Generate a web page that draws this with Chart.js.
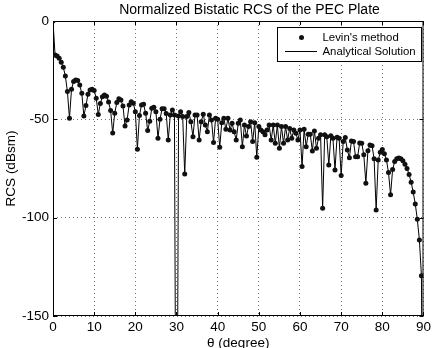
<!DOCTYPE html>
<html>
<head>
<meta charset="utf-8">
<script src="https://cdn.jsdelivr.net/npm/chart.js@4.4.0/dist/chart.umd.min.js"></script>
<style>
  html, body { margin: 0; padding: 0; background: #fff; }
</style>
</head>
<body>
<canvas id="rcs" width="434" height="348"></canvas>
<script>
// bistatic angle samples (degree)
const theta = [
  0, 0.5, 1, 1.5, 2, 2.5, 3, 3.5, 4, 4.5,
  5, 5.5, 6, 6.5, 7, 7.5, 8, 8.5, 9, 9.5,
  10, 10.5, 11, 11.5, 12, 12.5, 13, 13.5, 14, 14.5,
  15, 15.5, 16, 16.5, 17, 17.5, 18, 18.5, 19, 19.5,
  20, 20.5, 21, 21.5, 22, 22.5, 23, 23.5, 24, 24.5,
  25, 25.5, 26, 26.5, 27, 27.5, 28, 28.5, 29, 29.5,
  30, 30.5, 31, 31.5, 32, 32.5, 33, 33.5, 34, 34.5,
  35, 35.5, 36, 36.5, 37, 37.5, 38, 38.5, 39, 39.5,
  40, 40.5, 41, 41.5, 42, 42.5, 43, 43.5, 44, 44.5,
  45, 45.5, 46, 46.5, 47, 47.5, 48, 48.5, 49, 49.5,
  50, 50.5, 51, 51.5, 52, 52.5, 53, 53.5, 54, 54.5,
  55, 55.5, 56, 56.5, 57, 57.5, 58, 58.5, 59, 59.5,
  60, 60.5, 61, 61.5, 62, 62.5, 63, 63.5, 64, 64.5,
  65, 65.5, 66, 66.5, 67, 67.5, 68, 68.5, 69, 69.5,
  70, 70.5, 71, 71.5, 72, 72.5, 73, 73.5, 74, 74.5,
  75, 75.5, 76, 76.5, 77, 77.5, 78, 78.5, 79, 79.5,
  80, 80.5, 81, 81.5, 82, 82.5, 83, 83.5, 84, 84.5,
  85, 85.5, 86, 86.5, 87, 87.5, 88, 88.5, 89, 89.5,
  90
];

// Levin's method, normalized RCS (dBsm); null = -inf (exact null, off chart)
const rcsLevin = [
  0, -17.3, -17.8, -19, -21, -23.5, -28, -35.9, -49.5, -34.7,
  -30.8, -30, -30.3, -32.6, -36.8, -48.3, -43, -37.3, -35.1, -34.7,
  -35.4, -39.3, -47.5, -42, -38.5, -37.6, -38.3, -41.2, -45.5, -57,
  -46.9, -41.5, -39.5, -40.2, -43.2, -53.4, -50.3, -42.7, -41, -41.8,
  -46.1, -65.2, -48, -42.7, -42.3, -46.9, -55.7, -51, -44.4, -43.9,
  -46.1, -59.6, -50, -44.6, -44.6, -47, -60.5, -47.8, -45.2, -47.8,
  null, -48.3, -46.1, -48.6, -77.8, -48.6, -46.5, -51.2, -58.8, -47.8,
  -47.8, -60.5, -51.2, -47.4, -52.9, -56.3, -47.8, -50.3, -61.8, -49.5,
  -50, -64.2, -51.7, -49.5, -55.1, -49.5, -55.4, -52, -56.3, -60.5,
  -52, -50.3, -63.9, -52.9, -58.5, -53.7, -51.2, -61.3, -51.7, -69.3,
  -53.7, -55.4, -56.3, -57.9, -55.4, -52.9, -60.5, -52.9, -62.2, -52.9,
  -64.7, -53.7, -62.2, -53.7, -60.5, -54.6, -59.6, -55.4, -57.1, -60.5,
  -55.4, -74, -55, -63.9, -57.6, -57.6, -66.1, -55.9, -64.7, -59.6,
  -57.9, -95.2, -57.9, -58.8, -73.2, -58.3, -59.6, -75.7, -59.1, -59.6,
  -78.6, -61.3, -59.3, -65.6, -69.5, -61, -61.3, -69, -69, -62,
  -62.2, -68, -82.5, -66, -63, -63.4, -70, -96.1, -70.7, -66.8,
  -65.3, -67.5, -70.7, -77, -88.4, -75.5, -71.5, -70, -69.6, -70,
  -71, -72.8, -75, -78, -82, -87, -93, -100.8, -111.3, -129.5,
  null
];

// the analytical curve runs through the same samples; its exact nulls go to -inf
const NULL_DB = -300;

const xTicks = [0, 10, 20, 30, 40, 50, 60, 70, 80, 90];
const yTicks = [0, -50, -100, -150];

const FONT = '"Liberation Sans", Arial, sans-serif';
Chart.defaults.font.family = FONT;
Chart.defaults.color = '#000';

// matlab style box, inward ticks, title and legend inside the axes
const matlabFrame = {
  id: 'matlabFrame',
  beforeDatasetsDraw(chart) {
    const {ctx, chartArea: a, scales: {x, y}} = chart;
    ctx.save();
    ctx.strokeStyle = '#000';
    ctx.lineWidth = 1;
    ctx.strokeRect(a.left + 0.5, a.top + 0.5, a.right - a.left - 1, a.bottom - a.top - 1);
    ctx.beginPath();
    x.ticks.forEach(t => {
      const px = Math.round(x.getPixelForValue(t.value)) + 0.5;
      ctx.moveTo(px, a.bottom); ctx.lineTo(px, a.bottom - 4);
      ctx.moveTo(px, a.top); ctx.lineTo(px, a.top + 4);
    });
    y.ticks.forEach(t => {
      const py = Math.round(y.getPixelForValue(t.value)) + 0.5;
      ctx.moveTo(a.left, py); ctx.lineTo(a.left + 4, py);
      ctx.moveTo(a.right, py); ctx.lineTo(a.right - 4, py);
    });
    ctx.stroke();
    ctx.restore();
  },
  afterDraw(chart) {
    const ctx = chart.ctx;
    const ds = chart.data.datasets;
    ctx.save();
    ctx.fillStyle = '#000';
    ctx.font = '14px ' + FONT;
    ctx.textAlign = 'center';
    ctx.textBaseline = 'alphabetic';
    ctx.fillText('Normalized Bistatic RCS of the PEC Plate', 249.5, 13.5);

    // legend box
    ctx.fillStyle = '#fff';
    ctx.fillRect(277.5, 27.5, 144, 34);
    ctx.strokeStyle = '#000';
    ctx.lineWidth = 1;
    ctx.strokeRect(277.5, 27.5, 144, 34);
    ctx.fillStyle = '#111';
    ctx.beginPath();
    ctx.arc(301.5, 37.5, 2.5, 0, Math.PI * 2);
    ctx.fill();
    ctx.beginPath();
    ctx.moveTo(285, 51.5); ctx.lineTo(317, 51.5);
    ctx.stroke();
    ctx.fillStyle = '#000';
    ctx.font = '11.4px ' + FONT;
    ctx.textAlign = 'left';
    ctx.fillText(ds[0].label, 322.5, 41.4);
    ctx.fillText(ds[1].label, 322.5, 55.4);
    ctx.restore();
  }
};

new Chart(document.getElementById('rcs'), {
  type: 'line',
  data: {
    datasets: [{
      label: "Levin's method",
      data: theta.map((t, i) => ({x: t, y: rcsLevin[i]})),
      showLine: false,
      pointRadius: 2.5,
      pointBorderWidth: 0,
      pointBackgroundColor: '#111',
      borderColor: '#111'
    }, {
      label: 'Analytical Solution',
      data: theta.map((t, i) => ({x: t, y: rcsLevin[i] === null ? NULL_DB : rcsLevin[i]})),
      borderColor: '#000',
      borderWidth: 1,
      pointRadius: 0,
      tension: 0
    }]
  },
  plugins: [matlabFrame],
  options: {
    responsive: false,
    animation: false,
    events: [],
    layout: { padding: { top: 21, right: 9, bottom: 0, left: 0 } },
    plugins: {
      legend: { display: false },
      tooltip: { enabled: false }
    },
    scales: {
      x: {
        type: 'linear',
        min: 0,
        max: 90,
        afterBuildTicks: s => { s.ticks = xTicks.map(v => ({value: v})); },
        afterFit: s => { s.height = 32; },
        grid: { color: 'rgba(0,0,0,0.55)', drawTicks: false },
        border: { display: false, dash: [1, 3] },
        ticks: { padding: 3, maxRotation: 0, font: { size: 13.5 } },
        title: { display: true, text: 'θ (degree)', font: { size: 13.5 }, padding: { top: 0, bottom: -3 } }
      },
      y: {
        min: -150,
        max: 0,
        afterBuildTicks: s => { s.ticks = yTicks.map(v => ({value: v})); },
        afterFit: s => { s.width = 53; },
        grid: { color: 'rgba(0,0,0,0.55)', drawTicks: false },
        border: { display: false, dash: [1, 3] },
        ticks: { padding: 4, font: { size: 13.5 } },
        title: { display: true, text: 'RCS (dBsm)', font: { size: 13.5 }, padding: { top: 3, bottom: 0 } }
      }
    }
  }
});
</script>
</body>
</html>
